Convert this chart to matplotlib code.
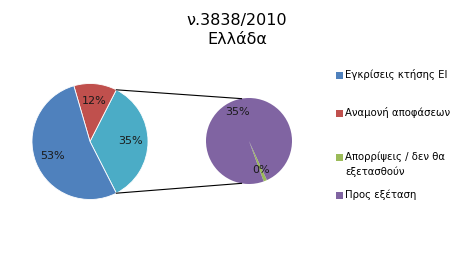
import matplotlib
matplotlib.use("Agg")
import matplotlib.pyplot as plt
from matplotlib.patches import Rectangle
import numpy as np

# data (percent of total)
title_lines = ["ν.3838/2010", "Ελλάδα"]
legend_labels = ["Εγκρίσεις κτήσης ΕΙ", "Αναμονή αποφάσεων",
                 "Απορρίψεις / δεν θα\nεξετασθούν", "Προς εξέταση"]
approved = 53.0
pending = 12.0
rejected = 0.45
to_examine = 34.55

c_blue, c_red, c_green, c_purple, c_teal = "#4F81BD", "#C0504D", "#9BBB59", "#8064A2", "#4BACC6"
legend_colors = [c_blue, c_red, c_green, c_purple]

plt.rcParams['font.family'] = ['DejaVu Sans']

W, H = 475, 280
fig = plt.figure(figsize=(W / 100, H / 100), dpi=100)
ax = fig.add_axes([0, 0, 1, 1])

total = approved + pending + rejected + to_examine
other = rejected + to_examine

def fmt(vals):
    s = sum(vals)
    def f(p):
        return "%d%%" % round(p * s / 100.0 / total * 100)
    return f

main_c = (90, H - 141.5)
main_r = 58
main_vals = [other, pending, approved]
start_main = -180 * other / total
ax.pie(main_vals, colors=[c_teal, c_red, c_blue],
       startangle=start_main, center=main_c, radius=main_r,
       autopct=fmt(main_vals), pctdistance=0.7,
       wedgeprops=dict(edgecolor='white', linewidth=0.6),
       textprops=dict(fontsize=8, color='#1a1a1a'), frame=True)

sub_c = (249, H - 141)
sub_r = 43
sub_vals = [rejected, to_examine]
ax.pie(sub_vals, colors=[c_green, c_purple], startangle=-70,
       center=sub_c, radius=sub_r, autopct=fmt(sub_vals), pctdistance=0.72,
       wedgeprops=dict(edgecolor='none'),
       textprops=dict(fontsize=8, color='#1a1a1a'), frame=True)

ax.set_xlim(0, W)
ax.set_ylim(0, H)
ax.set_aspect('equal')
ax.axis('off')

# connector lines
a = np.deg2rad(180 * other / total)
p_top = (main_c[0] + main_r * np.cos(a), main_c[1] + main_r * np.sin(a))
p_bot = (main_c[0] + main_r * np.cos(-a), main_c[1] + main_r * np.sin(-a))
b = np.deg2rad(100)
s_top = (sub_c[0] + sub_r * np.cos(b), sub_c[1] + sub_r * np.sin(b))
s_bot = (sub_c[0] + sub_r * np.cos(-b), sub_c[1] + sub_r * np.sin(-b))
ax.plot([p_top[0], s_top[0]], [p_top[1], s_top[1]], color='black', lw=0.8)
ax.plot([p_bot[0], s_bot[0]], [p_bot[1], s_bot[1]], color='black', lw=0.8)

# title
ax.text(237, H - 21, title_lines[0], ha='center', va='center', fontsize=11.5)
ax.text(237, H - 40, title_lines[1], ha='center', va='center', fontsize=11.5)

# legend
rows_y = [75, 113, 157, 195]
for lab, col, y in zip(legend_labels, legend_colors, rows_y):
    ax.add_patch(Rectangle((336, H - y - 4), 7, 7, facecolor=col, edgecolor='none'))
    if '\n' in lab:
        ax.text(345, H - y + 6, lab, ha='left', va='top', fontsize=7.3, linespacing=1.55)
    else:
        ax.text(345, H - y, lab, ha='left', va='center', fontsize=7.3)

fig.savefig("out.png", dpi=100)
